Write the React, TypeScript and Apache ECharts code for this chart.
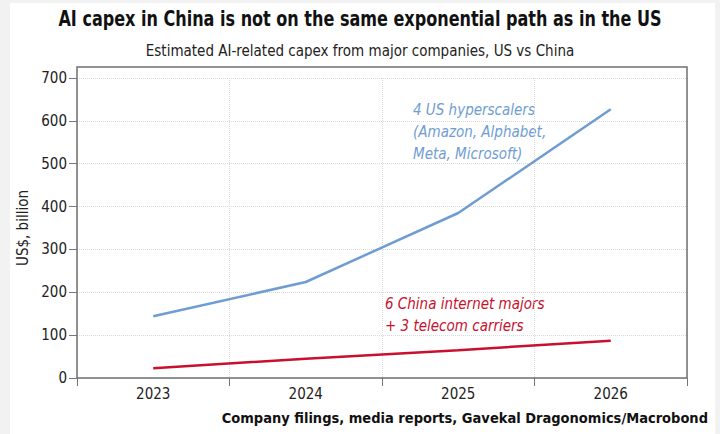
import React, { useEffect, useRef } from "react";
import * as echarts from "echarts";

const years = ["2023", "2024", "2025", "2026"];
const usHyperscalers = [144, 224, 385, 627];
const chinaMajors = [23, 45, 65, 87];
const yTicks = [0, 100, 200, 300, 400, 500, 600, 700];

const titleText = "AI capex in China is not on the same exponential path as in the US";
const subtitleText = "Estimated AI-related capex from major companies, US vs China";
const sourceText = "Company filings, media reports, Gavekal Dragonomics/Macrobond";
const usLabel = ["4 US hyperscalers", "(Amazon, Alphabet,", "Meta, Microsoft)"];
const cnLabel = ["6 China internet majors", "+ 3 telecom carriers"];

const FONT = "'Liberation Sans Narrow', 'DejaVu Sans Condensed', 'Open Sans', sans-serif";
const BLUE = "#6f9dd3";
const RED = "#c8102e";
const TXT = "#222";

export default function App() {
  const ref = useRef<HTMLDivElement>(null);
  useEffect(() => {
    if (!ref.current) return;
    const chart = echarts.init(ref.current, undefined, { renderer: "svg" });
    const option = {
      animation: false,
      backgroundColor: "#f2f2f2",
      textStyle: { fontFamily: FONT },
      grid: { left: 77, right: 33, top: 78, bottom: 56, containLabel: false },
      xAxis: {
        type: "category",
        data: years,
        boundaryGap: true,
        axisLine: { show: false },
        axisTick: { show: true, inside: false, length: 8, lineStyle: { color: "#777", width: 1 } },
        axisLabel: { color: TXT, fontSize: 15, margin: 8, fontFamily: FONT },
        splitLine: { show: true, lineStyle: { color: "#dadada", type: "dotted", width: 1 } },
      },
      yAxis: {
        type: "value",
        min: yTicks[0],
        max: yTicks[yTicks.length - 1],
        interval: 100,
        name: "US$, billion",
        nameLocation: "middle",
        nameRotate: 90,
        nameGap: 45,
        nameTextStyle: { color: TXT, fontSize: 15, fontFamily: FONT },
        axisLine: { show: false },
        axisTick: { show: true, length: 8, lineStyle: { color: "#777", width: 1 } },
        axisLabel: { color: TXT, fontSize: 15, margin: 10, fontFamily: FONT },
        splitLine: { show: true, lineStyle: { color: "#dadada", type: "dotted", width: 1 } },
      },
      title: [
        {
          text: subtitleText,
          left: "center",
          top: 38,
          textStyle: { fontSize: 15, fontWeight: "normal", color: TXT, fontFamily: FONT },
        },
      ],
      graphic: [
        {
          type: "rect",
          z: -10,
          silent: true,
          shape: { x: 10, y: 3, width: 705, height: 431 },
          style: { fill: "#ffffff" },
        },
        {
          type: "rect",
          z: 10,
          silent: true,
          shape: { x: 77, y: 67, width: 610, height: 311 },
          style: { fill: "none", stroke: "#707070", lineWidth: 1.5 },
        },
        {
          type: "text",
          x: 360,
          y: 19,
          scaleX: 0.85,
          style: {
            text: titleText,
            font: `bold 21px ${FONT}`,
            fill: "#111",
            textAlign: "center",
            textVerticalAlign: "middle",
          },
        },
        {
          type: "text",
          right: 12,
          top: 410,
          style: { text: sourceText, font: `bold 14.5px ${FONT}`, fill: "#111" },
        },
        {
          type: "text",
          left: 413,
          top: 99,
          style: { text: usLabel.join("\n"), font: `italic 15px ${FONT}`, fill: BLUE, lineHeight: 22 },
        },
        {
          type: "text",
          left: 385,
          top: 293,
          style: { text: cnLabel.join("\n"), font: `italic 15px ${FONT}`, fill: RED, lineHeight: 22 },
        },
      ],
      series: [
        {
          name: "US",
          type: "line",
          data: usHyperscalers,
          symbol: "none",
          lineStyle: { color: BLUE, width: 2.5 },
          z: 5,
        },
        {
          name: "China",
          type: "line",
          data: chinaMajors,
          symbol: "none",
          lineStyle: { color: RED, width: 2.5 },
          z: 5,
        },
      ],
    };
    chart.setOption(option as any);
    return () => chart.dispose();
  }, []);
  return (
    <div
      ref={ref}
      style={{ position: "fixed", left: 0, top: 0, width: 720, height: 434 }}
    />
  );
}
